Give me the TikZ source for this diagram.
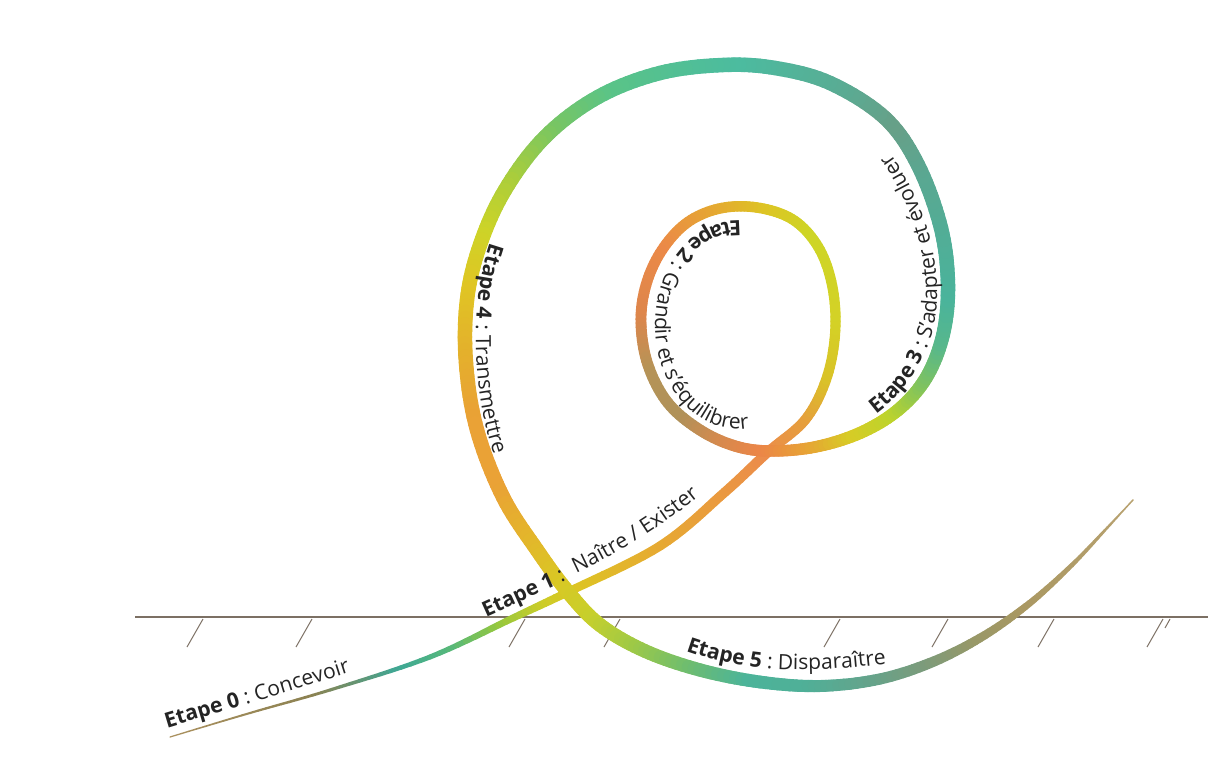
\documentclass[tikz,border=0pt]{standalone}
\usepackage{fontspec}
\setmainfont{Open Sans}
\usetikzlibrary{decorations.text}
\definecolor{groundLine}{RGB}{124,112,100}
\definecolor{etapeInk}{RGB}{36,36,36}
\newcommand\etapefont{\fontsize{15}{18}\selectfont}

% centre line of the spiral (px)
\def\spX{{170,250,330,430,513,568,660,725,768,805,826,835,833,820,795,760,722,688,662,646,641,648,668,700,735,770,815,860,898,926,943,948,941,918,885,830,775,723,660,598,545,505,480,467,466,477,503,537,568,600,645,700,760,820,880,935,985,1030,1072,1108,1133}}
\def\spY{{737,713,690,657,618,592,546,492,452,420,380,335,290,250,221,208,208,222,250,285,323,365,403,430,446,451,447,433,410,378,335,285,228,165,118,83,68,65,73,97,137,190,245,300,363,430,497,550,592,625,651,670,682,686,679,661,635,603,565,527,500}}

% ribbon stops: arc length (px), colour, width (px)
\def\ribL{{0,150,240,300,350,400,440,520,600,670,723,770,830,924,975,1033,1089,1162,1217,1273,1320,1362,1407,1454,1498,1541,1587,1637,1762,1819,1884,1993,2123,2190,2256,2317,2373,2436,2504,2576,2639,2691,2737,2789,2847,2909,2969,3029,3087,3143,3199,3344,3600}}
\def\ribR{{172,140,62,90,150,205,222,230,234,236,230,218,212,206,222,230,236,222,182,176,214,236,232,216,190,130,88,74,90,104,90,76,90,120,170,206,224,228,234,234,228,218,200,160,112,76,80,100,124,152,170,184,184}}
\def\ribG{{146,130,168,186,200,205,196,172,156,140,160,195,210,214,196,165,138,134,148,146,138,134,162,204,212,196,184,180,168,160,172,188,196,198,206,212,198,178,162,162,182,200,208,202,190,180,176,164,156,152,152,162,162}}
\def\ribB{{96,82,150,120,62,40,36,50,62,76,60,40,38,38,36,52,72,76,88,90,78,72,54,38,44,92,140,156,146,136,148,160,136,100,60,40,36,44,54,54,44,36,44,70,110,154,152,140,124,104,98,112,112}}
\def\ribW{{1.2,2.8,4.4,5.5,6.7,7.9,8.6,9.1,9.6,10,10.1,10.1,10.2,10.4,10.5,10.6,10.7,10.9,11,11.2,11.3,11.4,11.6,12.2,12.7,13.3,13.8,14.5,14.5,14.5,14.5,14.5,14.5,14.5,14.5,14.5,14.5,14.5,14.5,14.5,14.5,14.5,14.2,13.8,13.4,12.9,12.1,11.3,10.5,8.8,7,1.5,1.5}}

\newcommand\gsetmath[2]{\pgfmathsetmacro\ribtmp{#2}\global\let#1\ribtmp}
% load the two stops around segment \ribI
\newcommand\ribsegment{%
  \gsetmath\ribLa{\ribL[\ribI]}\gsetmath\ribLb{\ribL[\ribI+1]}%
  \gsetmath\ribRa{\ribR[\ribI]}\gsetmath\ribRb{\ribR[\ribI+1]}%
  \gsetmath\ribGa{\ribG[\ribI]}\gsetmath\ribGb{\ribG[\ribI+1]}%
  \gsetmath\ribBa{\ribB[\ribI]}\gsetmath\ribBb{\ribB[\ribI+1]}%
  \gsetmath\ribWa{\ribW[\ribI]}\gsetmath\ribWb{\ribW[\ribI+1]}%
}
% colour ribInk and width \ribw at arc length \ribPos
\newcommand\ribink{%
  \ifdim\ribPos pt>\ribLb pt
    \pgfmathtruncatemacro\ribnext{\ribI+1}\xdef\ribI{\ribnext}\ribsegment
  \fi
  \pgfmathsetmacro\ribF{max(0,min(1,(\ribPos-\ribLa)/(\ribLb-\ribLa)))}%
  \pgfmathtruncatemacro\ribr{\ribRa+\ribF*(\ribRb-\ribRa)}%
  \pgfmathtruncatemacro\ribg{\ribGa+\ribF*(\ribGb-\ribGa)}%
  \pgfmathtruncatemacro\ribb{\ribBa+\ribF*(\ribBb-\ribBa)}%
  \pgfmathsetmacro\ribw{\ribWa+\ribF*(\ribWb-\ribWa)}%
  \definecolor{ribInk}{RGB}{\ribr,\ribg,\ribb}%
}

\begin{document}
\begin{tikzpicture}[x=0.025cm, y=-0.025cm,
    ground/.style={draw=groundLine, line width=1.1pt},
    hatch/.style={draw=groundLine, line width=0.7pt},
    ribbon/.style={line cap=round, line width=#1*0.7113pt},
    etape/.style={decorate, decoration={text along path, text={#1},
        text color=etapeInk}}
  ]
  \useasboundingbox (0,0) rectangle (1208,756);

  % ground and its hatching
  \draw[ground] (135,617) -- (1208,617);
  \foreach \hx in {203,312,525,620,840,948,1054,1163}
    \draw[hatch] (\hx,619) -- ++(-16,28);
  \draw[hatch] (1170,619) -- ++(-5,9);

  % the ribbon: Catmull-Rom pieces, each cut in short strokes
  \gdef\ribI{0}\gdef\ribAcc{0}\ribsegment
  \xdef\ribPx{170}\xdef\ribPy{737}
  \foreach \i in {0,...,59} {
    \pgfmathtruncatemacro\ia{max(\i-1,0)}
    \pgfmathtruncatemacro\ib{\i+1}
    \pgfmathtruncatemacro\ic{min(\i+2,60)}
    \pgfmathsetmacro\xa{\spX[\ia]}\pgfmathsetmacro\ya{\spY[\ia]}
    \pgfmathsetmacro\xb{\spX[\i]}\pgfmathsetmacro\yb{\spY[\i]}
    \pgfmathsetmacro\xc{\spX[\ib]}\pgfmathsetmacro\yc{\spY[\ib]}
    \pgfmathsetmacro\xd{\spX[\ic]}\pgfmathsetmacro\yd{\spY[\ic]}
    \pgfmathsetmacro\kax{\xb+(\xc-\xa)/6}\pgfmathsetmacro\kay{\yb+(\yc-\ya)/6}
    \pgfmathsetmacro\kbx{\xc-(\xd-\xb)/6}\pgfmathsetmacro\kby{\yc-(\yd-\yb)/6}
    \foreach \k in {1,...,10} {
      \pgfmathsetmacro\ribt{\k/10}
      \pgfmathsetmacro\ribu{1-\ribt}
      \pgfmathsetmacro\bx{\ribu*\ribu*\ribu*\xb+3*\ribu*\ribu*\ribt*\kax+3*\ribu*\ribt*\ribt*\kbx+\ribt*\ribt*\ribt*\xc}
      \pgfmathsetmacro\by{\ribu*\ribu*\ribu*\yb+3*\ribu*\ribu*\ribt*\kay+3*\ribu*\ribt*\ribt*\kby+\ribt*\ribt*\ribt*\yc}
      \pgfmathsetmacro\ribd{veclen(\bx-\ribPx,\by-\ribPy)}
      \pgfmathsetmacro\ribPos{min(\ribAcc+0.5*\ribd,3599)}
      \pgfmathsetmacro\ribnew{\ribAcc+\ribd}
      \xdef\ribAcc{\ribnew}
      \ribink
      \draw[ribbon=\ribw, ribInk] (\ribPx,\ribPy) -- (\bx,\by);
      \xdef\ribPx{\bx}\xdef\ribPy{\by}
    }
  }

  % stage labels
  \path[etape={|\etapefont\bfseries|Etape 0|\etapefont\mdseries| : Concevoir}]
    (167,728) .. controls (250,703) and (330,680) .. (430,646);
  \path[etape={|\etapefont\bfseries|Etape 1|\etapefont\mdseries| :}]
    (486,617) .. controls (515,604) and (545,590) .. (600,565);
  \path[etape={|\etapefont|Naître / Exister}]
    (576,573) .. controls (630,548) and (690,510) .. (760,443);
  \path[etape={|\etapefont\bfseries|Etape 2|\etapefont\mdseries| : Grandir et s'équilibrer}]
    (738,325) ++(272:83 and 104) arc[start angle=272, end angle=30, x radius=83, y radius=104];
  \path[etape={|\etapefont\bfseries|Etape 3|\etapefont\mdseries| : S'adapter et évoluer}]
    (876,414) .. controls (915,385) and (940,340) .. (937,285)
              .. controls (934,220) and (900,140) .. (825,93);
  \path[etape={|\etapefont\bfseries|Etape 4|\etapefont\mdseries| : Transmettre}]
    (490,243) .. controls (470,300) and (468,400) .. (505,485);
  \path[etape={|\etapefont\bfseries|Etape 5|\etapefont\mdseries| : Disparaître}]
    (686,651) .. controls (740,670) and (800,676) .. (900,662);
\end{tikzpicture}
\end{document}
